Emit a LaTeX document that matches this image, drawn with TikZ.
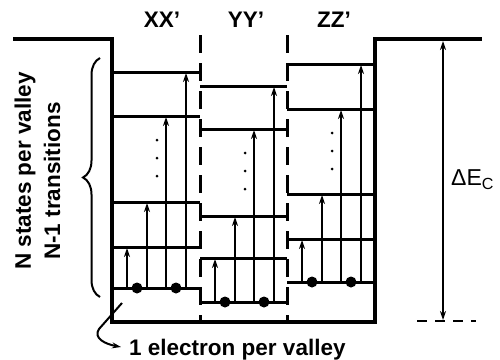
\documentclass[tikz,border=0pt]{standalone}
\usepackage{fontspec}
\setmainfont{Liberation Sans}
\usetikzlibrary{arrows.meta,decorations.pathreplacing}
\tikzset{
  wall/.style={line width=4.5pt, line join=miter},
  lvl/.style={line width=3pt},
  divider/.style={line width=3pt, dash pattern=on 18pt off 10pt},
  arr/.style={-{Stealth[length=9pt, width=6pt, inset=3pt]}, line width=2pt},
  darr/.style={{Stealth[length=9pt, width=6pt, inset=3pt]}-{Stealth[length=9pt, width=6pt, inset=3pt]}, line width=2pt},
  elec/.style={circle, fill, inner sep=0pt, minimum size=11pt},
  vdot/.style={circle, fill, inner sep=0pt, minimum size=3pt},
  lbl/.style={font=\fontsize{22.5}{27}\selectfont\bfseries, inner sep=0pt}
}

\begin{document}
\begin{tikzpicture}[x=1pt, y=-1pt]
\useasboundingbox (0,0) rectangle (500,359);

% valleys
\draw[divider] (200,35) -- (200,322);
\draw[divider] (287,35) -- (287,322);
\foreach \xl/\xr/\la/\lb/\lc/\ld/\lg/\xt/\txt in
  {112/200/72/116/202/247/288/162/XX', 200/287/86/129/216/258/302/246/YY', 287/375/64/109/194/239/282/334/ZZ'}{
  \node[lbl] (t\xl) at (\xt,20) {\txt};
  \foreach \y in {\la,\lb,\lc,\ld,\lg} \draw[lvl] (\xl,\y) -- (\xr,\y);
  \draw[arr, shorten >=1pt] (\xl+15,\lg) -- (\xl+15,\ld);
  \draw[arr, shorten >=1pt] (\xl+35,\lg) -- (\xl+35,\lc);
  \draw[arr, shorten >=1pt] (\xl+54,\lg) -- (\xl+54,\lb);
  \draw[arr, shorten >=1pt] (\xl+74,\lg) -- (\xl+74,\la);
  \node[elec] (ea\xl) at (\xl+25,\lg) {};
  \node[elec] (eb\xl) at (\xl+64,\lg) {};
  \foreach \k in {0,1,2} \node[vdot] (d\xl\k) at (\xl+45,\lb+24+18*\k) {};
}

% well
\draw[wall] (13,39) -- (112,39) -- (112,322) -- (375,322) -- (375,39) -- (482,39);

% band offset
\coordinate (ectop) at (443,41);
\coordinate (ecbot) at (443,320);
\coordinate (dl) at (417,321);
\coordinate (dr) at (476,321);
\draw[darr] (ectop) -- (ecbot);
\draw[line width=2pt, dash pattern=on 10pt off 8pt] (dl) -- (dr);
\node[font=\fontsize{23}{27}\selectfont, inner sep=0pt, anchor=west] (ec) at (451,180) {ΔE\textsubscript{C}};

% states
\draw[line width=2pt, decorate, decoration={brace, amplitude=17pt}] (100,297) -- (100,58);
\node[lbl, rotate=90] (ns) at (25,171) {N states per valley};
\node[lbl, rotate=90] (nt) at (52,181) {N-1 transitions};

% one electron
\node[lbl, anchor=base west] (one) at (129,355) {1 electron per valley};
\coordinate (ep) at (122,303);
\coordinate (et) at (121,347);
\draw[arr] (ep) -- ++(-23,26) .. controls +(-6,9) and +(-16,-3) .. (et);
\end{tikzpicture}
\end{document}
